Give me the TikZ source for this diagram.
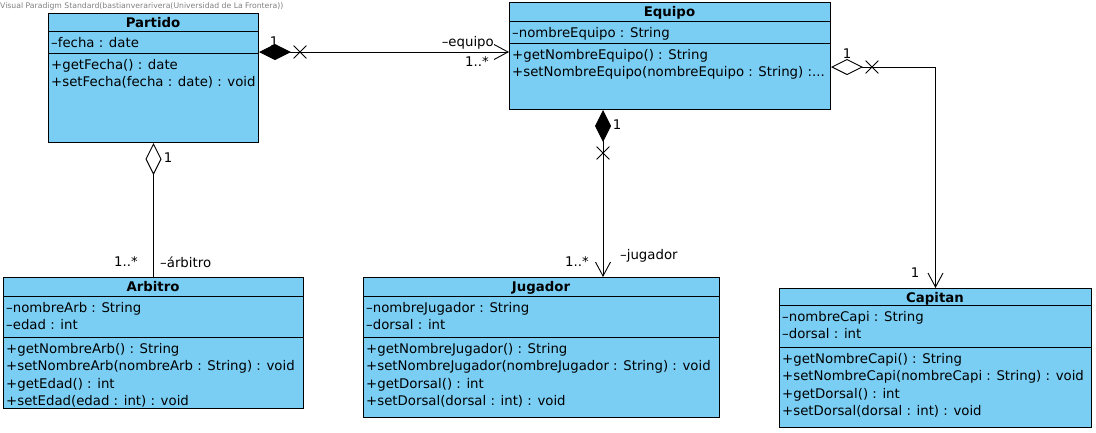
\documentclass[tikz,border=0pt]{standalone}
\usepackage{fontspec}
\setmainfont{DejaVu Sans}
\usetikzlibrary{arrows.meta,shapes.misc}
\definecolor{classblue}{RGB}{122,206,244}
\tikzset{
  classbox/.style={draw=black,fill=classblue,line width=1pt,anchor=north west,inner sep=0pt},
  sepline/.style={draw=black,line width=1pt},
  head/.style={anchor=base,font=\fontsize{13.3}{16}\selectfont\bfseries,inner sep=0pt},
  member/.style={anchor=base west,font=\fontsize{13.3}{16}\selectfont,inner sep=0pt},
  lbl/.style={font=\fontsize{13.3}{16}\selectfont,inner sep=0pt},
  xmark/.style={cross out,draw=black,minimum size=12pt,inner sep=0pt,line width=0.8pt},
  assoc/.style={draw=black,line width=0.9pt},
  compd/.tip={Diamond[length=32pt,width=16pt]},
  aggd/.tip={Diamond[open,length=32pt,width=16pt]},
  navb/.tip={Straight Barb[length=14pt,width=15pt]}
}
\begin{document}
\begin{tikzpicture}[x=1pt,y=-1pt]
    \useasboundingbox (0,0) rectangle (1096,432);
    \node[anchor=base west,inner sep=0pt,text=gray,font=\fontsize{7.7}{8}\selectfont] (vp) at (0,8) {Visual Paradigm Standard(bastianverarivera(Universidad de La Frontera))};

    % Partido
    \node[classbox,minimum width=210pt,minimum height=129pt] (partido) at (48,13) {};
    \draw[sepline] (partido.west |- 0,31) -- (partido.east |- 0,31);
    \draw[sepline] (partido.west |- 0,53) -- (partido.east |- 0,53);
    \node[head] (partidoh) at (153,27.5) {Partido};
    \node[member] (pa0) at (51,47) {–fecha : date};
    \foreach \m [count=\i from 0] in {+getFecha() : date,+setFecha(fecha : date) : void}
        \node[member] (pm\i) at (51,69+17.6*\i) {\m};

    % Equipo
    \node[classbox,minimum width=321pt,minimum height=107pt] (equipo) at (509,2) {};
    \draw[sepline] (equipo.west |- 0,21) -- (equipo.east |- 0,21);
    \draw[sepline] (equipo.west |- 0,43) -- (equipo.east |- 0,43);
    \node[head] (equipoh) at (669.5,16.5) {Equipo};
    \node[member] (ea0) at (512,37) {–nombreEquipo : String};
    \node[member] (em0) at (512,59) {+getNombreEquipo() : String};
    \node[member] (em1) at (512,76.6) {+setNombreEquipo(nombreEquipo : String) :...};

    % Arbitro
    \node[classbox,minimum width=300pt,minimum height=131pt] (arbitro) at (3,277) {};
    \draw[sepline] (arbitro.west |- 0,296) -- (arbitro.east |- 0,296);
    \draw[sepline] (arbitro.west |- 0,337) -- (arbitro.east |- 0,337);
    \node[head] (arbitroh) at (153,291.5) {Arbitro};
    \foreach \m [count=\i from 0] in {–nombreArb : String,–edad : int}
        \node[member] (aa\i) at (6,312+17.6*\i) {\m};
    \foreach \m [count=\i from 0] in {+getNombreArb() : String,+setNombreArb(nombreArb : String) : void,+getEdad() : int,+setEdad(edad : int) : void}
        \node[member] (am\i) at (6,353+17.6*\i) {\m};

    % Jugador
    \node[classbox,minimum width=356pt,minimum height=140pt] (jugador) at (363,277) {};
    \draw[sepline] (jugador.west |- 0,296) -- (jugador.east |- 0,296);
    \draw[sepline] (jugador.west |- 0,337) -- (jugador.east |- 0,337);
    \node[head] (jugadorh) at (541,291.5) {Jugador};
    \foreach \m [count=\i from 0] in {–nombreJugador : String,–dorsal : int}
        \node[member] (ja\i) at (366,312+17.6*\i) {\m};
    \foreach \m [count=\i from 0] in {+getNombreJugador() : String,+setNombreJugador(nombreJugador : String) : void,+getDorsal() : int,+setDorsal(dorsal : int) : void}
        \node[member] (jm\i) at (366,353+17.6*\i) {\m};

    % Capitan
    \node[classbox,minimum width=312pt,minimum height=139pt] (capitan) at (779,288) {};
    \draw[sepline] (capitan.west |- 0,305) -- (capitan.east |- 0,305);
    \draw[sepline] (capitan.west |- 0,347) -- (capitan.east |- 0,347);
    \node[head] (capitanh) at (935,302.5) {Capitan};
    \foreach \m [count=\i from 0] in {–nombreCapi : String,–dorsal : int}
        \node[member] (ca\i) at (782,321+17.6*\i) {\m};
    \foreach \m [count=\i from 0] in {+getNombreCapi() : String,+setNombreCapi(nombreCapi : String) : void,+getDorsal() : int,+setDorsal(dorsal : int) : void}
        \node[member] (cm\i) at (782,363+17.6*\i) {\m};

    % associations
    \draw[assoc,compd-navb] (partido.east |- 0,52) -- (equipo.west |- 0,52);
    \node[xmark] (xpe) at (300,52) {};
    \node[lbl] (pe1) at (274,42) {1};
    \node[lbl,anchor=east] (pe2) at (494,43) {–equipo};
    \node[lbl] (pe3) at (477,62) {1..*};

    \draw[assoc,aggd-] (partido.south) -- (arbitro.north);
    \node[lbl] (pa1) at (168,158) {1};
    \node[lbl,anchor=east] (pa2) at (138,262) {1..*};
    \node[lbl,anchor=west] (pa3) at (160,262) {–árbitro};

    \draw[assoc,compd-navb] (equipo.south -| 603,0) -- (jugador.north -| 603,0);
    \node[xmark] (xej) at (603,153) {};
    \node[lbl] (ej1) at (617,125) {1};
    \node[lbl,anchor=east] (ej2) at (589,262) {1..*};
    \node[lbl,anchor=west] (ej3) at (620,256) {–jugador};

    \draw[assoc,aggd-navb] (equipo.east |- 0,67) -| (capitan.north);
    \node[xmark] (xec) at (872,67) {};
    \node[lbl] (ec1) at (847,54) {1};
    \node[lbl] (ec2) at (915,273) {1};
\end{tikzpicture}
\end{document}
